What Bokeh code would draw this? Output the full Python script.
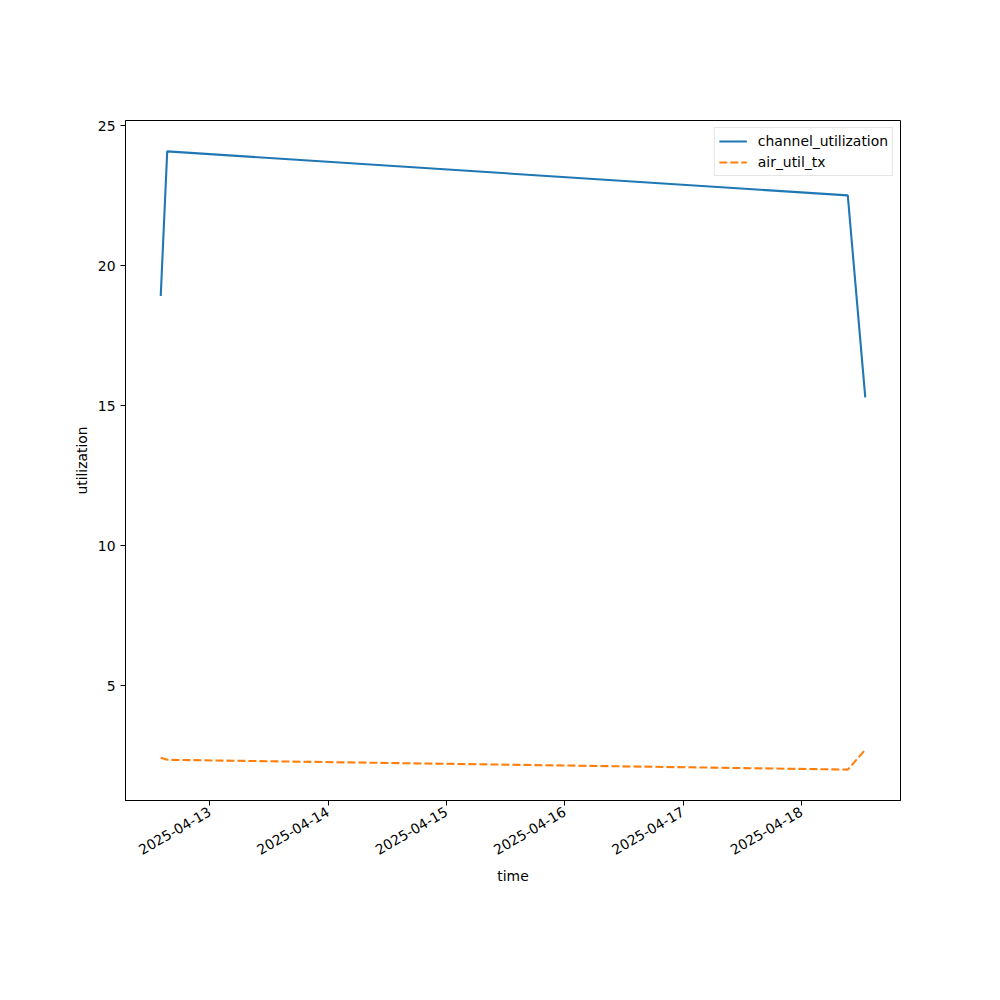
import math
import pandas as pd
from bokeh.plotting import figure
from bokeh.models import Range1d, FixedTicker, DatetimeTickFormatter, Legend, LegendItem
from bokeh.embed import file_html
from bokeh.resources import INLINE

# data
times = ["2025-04-12 14:04", "2025-04-12 15:23", "2025-04-18 09:25", "2025-04-18 12:58"]
channel_utilization = [18.92, 24.08, 22.51, 15.30]
air_util_tx = [2.43, 2.36, 2.01, 2.72]
tick_days = ["2025-04-13", "2025-04-14", "2025-04-15", "2025-04-16", "2025-04-17", "2025-04-18"]
y_ticks = [5, 10, 15, 20, 25]

t = pd.to_datetime(times)
tick_ms = [pd.Timestamp(d).value / 1e6 for d in tick_days]
t_ms = [x.value / 1e6 for x in t]

xspan = t_ms[-1] - t_ms[0]
allv = channel_utilization + air_util_tx
ymin, ymax = min(allv), max(allv)
yspan = ymax - ymin

FONT = "DejaVu Sans"

p = figure(width=992, height=992, x_axis_type="datetime", output_backend="svg",
           toolbar_location=None,
           x_range=Range1d(t_ms[0] - 0.05 * xspan, t_ms[-1] + 0.05 * xspan),
           y_range=Range1d(ymin - 0.05 * yspan, ymax + 0.05 * yspan),
           min_border_left=125, min_border_right=92, min_border_top=120, min_border_bottom=192)
p.grid.visible = False
p.outline_line_color = "black"
p.outline_line_width = 1
p.background_fill_color = "white"
p.border_fill_color = "white"

r1 = p.line(t, channel_utilization, line_color="#1f77b4", line_width=2.1)
r2 = p.line(t, air_util_tx, line_color="#ff7f0e", line_width=2.1, line_dash="8 3")

for ax in (p.xaxis[0], p.yaxis[0]):
    ax.axis_line_color = "black"
    ax.major_tick_line_color = "black"
    ax.major_tick_out = 5
    ax.major_tick_in = 0
    ax.minor_tick_line_color = None
    ax.major_label_text_font = FONT
    ax.major_label_text_font_size = "13.9px"
    ax.major_label_text_color = "black"
    ax.axis_label_text_font = FONT
    ax.axis_label_text_font_size = "13.9px"
    ax.axis_label_text_font_style = "normal"
    ax.axis_label_text_color = "black"

p.xaxis.ticker = FixedTicker(ticks=tick_ms)
p.xaxis.formatter = DatetimeTickFormatter(days="%Y-%m-%d", hours="%Y-%m-%d", months="%Y-%m-%d")
p.xaxis.major_label_orientation = math.pi / 6
p.xaxis.axis_label = "time"
p.yaxis.ticker = FixedTicker(ticks=y_ticks)
p.yaxis.axis_label = "utilization"

legend = Legend(items=[LegendItem(label="channel_utilization", renderers=[r1]),
                       LegendItem(label="air_util_tx", renderers=[r2])],
                location="top_right")
legend.label_text_font = FONT
legend.label_text_font_size = "13.9px"
legend.label_text_color = "black"
legend.border_line_color = "#cccccc"
legend.background_fill_alpha = 0.8
legend.glyph_width = 28
legend.glyph_height = 18
legend.label_height = 18
legend.label_standoff = 11
legend.spacing = 3
legend.padding = 4
legend.margin = 7
p.add_layout(legend)

open("out.html", "w").write(file_html(p, INLINE))
